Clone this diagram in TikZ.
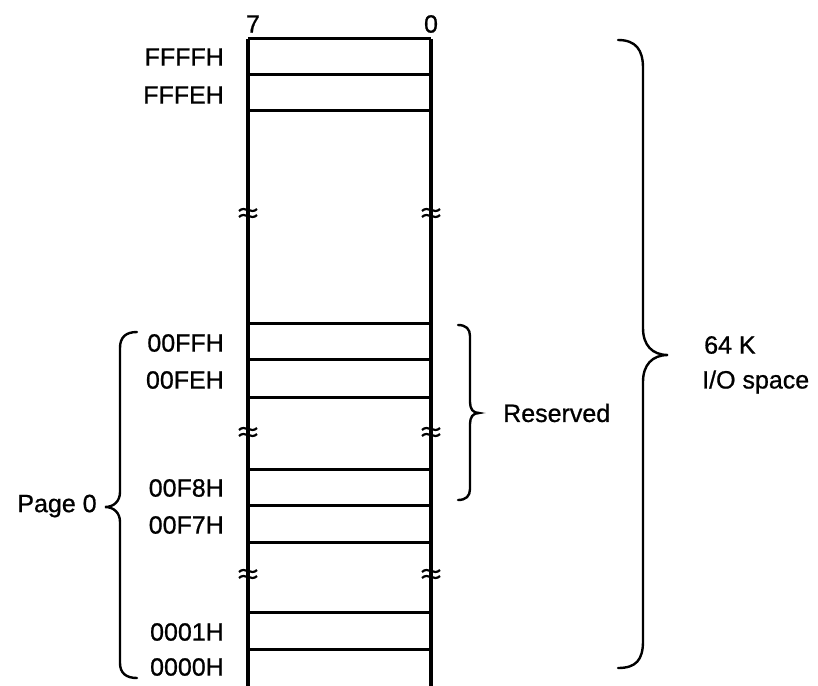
\documentclass[tikz,border=0pt]{standalone}
\usepackage{fontspec}
\setmainfont{Liberation Sans}[FakeBold=0.8]
\begin{document}
\begin{tikzpicture}[x=1pt,y=-1pt,
  lbl/.style={font=\fontsize{25}{30}\selectfont, inner sep=0pt},
  addr/.style={lbl, anchor=east},
  cellline/.style={line width=3pt},
  wall/.style={line width=3.6pt},
  brk/.style={line width=2.2pt},
  brc/.style={line width=2.4pt, line cap=round}]
\useasboundingbox (0,0) rectangle (818,685);

% memory column walls
\coordinate (TL) at (248,39);
\coordinate (TR) at (431,39);
\coordinate (BL) at (248,686);
\coordinate (BR) at (431,686);
\draw[wall] (TL) -- (BL);
\draw[wall] (TR) -- (BR);

% cell boundaries
\foreach \y in {39,74,110,323,359,397,469,505,542,612,649}
  \draw[cellline] (248,\y) -- (431,\y);

% break marks
\foreach \y in {213,432,574}{
  \foreach \x in {248,431}{
    \foreach \d in {-3,3}
      \draw[brk] (\x-9,\y+\d+1) .. controls (\x-3,\y+\d-5) and (\x+3,\y+\d+5) .. (\x+9,\y+\d-1);
  }
}

% bit labels
\node[lbl] (b7) at (253,24) {7};
\node[lbl] (b0) at (431,24) {0};

% address labels
\node[addr] (aFFFF) at (224,57) {FFFFH};
\node[addr] (aFFFE) at (224,95) {FFFEH};
\node[addr] (a00FF) at (224,343) {00FFH};
\node[addr] (a00FE) at (224,380) {00FEH};
\node[addr] (a00F8) at (224,488) {00F8H};
\node[addr] (a00F7) at (224,525) {00F7H};
\node[addr] (a0001) at (224,632) {0001H};
\node[addr] (a0000) at (224,667) {0000H};

% 64 K brace
\draw[brc] (618,40) .. controls (636,40) and (643,50) .. (643,68)
  -- (643,328) .. controls (643,345) and (652,355) .. (668,355)
  .. controls (652,355) and (643,365) .. (643,382)
  -- (643,641) .. controls (643,660) and (636,668) .. (618,668);
\node[lbl, anchor=west] (k64) at (704,345) {64 K};
\node[lbl, anchor=west] (iosp) at (702,382) {I/O space};

% Reserved brace
\draw[brc] (458,325) .. controls (466,325) and (470,329) .. (470,336)
  -- (470,402) .. controls (470,409) and (473,413) .. (479,413)
  .. controls (473,413) and (470,417) .. (470,424)
  -- (470,489) .. controls (470,496) and (466,500) .. (458,500);
\node[lbl, anchor=west] (res) at (503,413) {Reserved};

% Page 0 brace
\draw[brc] (137,332) .. controls (126,332) and (120,337) .. (120,348)
  -- (120,492) .. controls (120,501) and (114,507) .. (105,507)
  .. controls (114,507) and (120,513) .. (120,522)
  -- (120,663) .. controls (120,673) and (126,678) .. (137,678);
\node[lbl] (pg0) at (57,506) {Page 0};
\end{tikzpicture}
\end{document}
